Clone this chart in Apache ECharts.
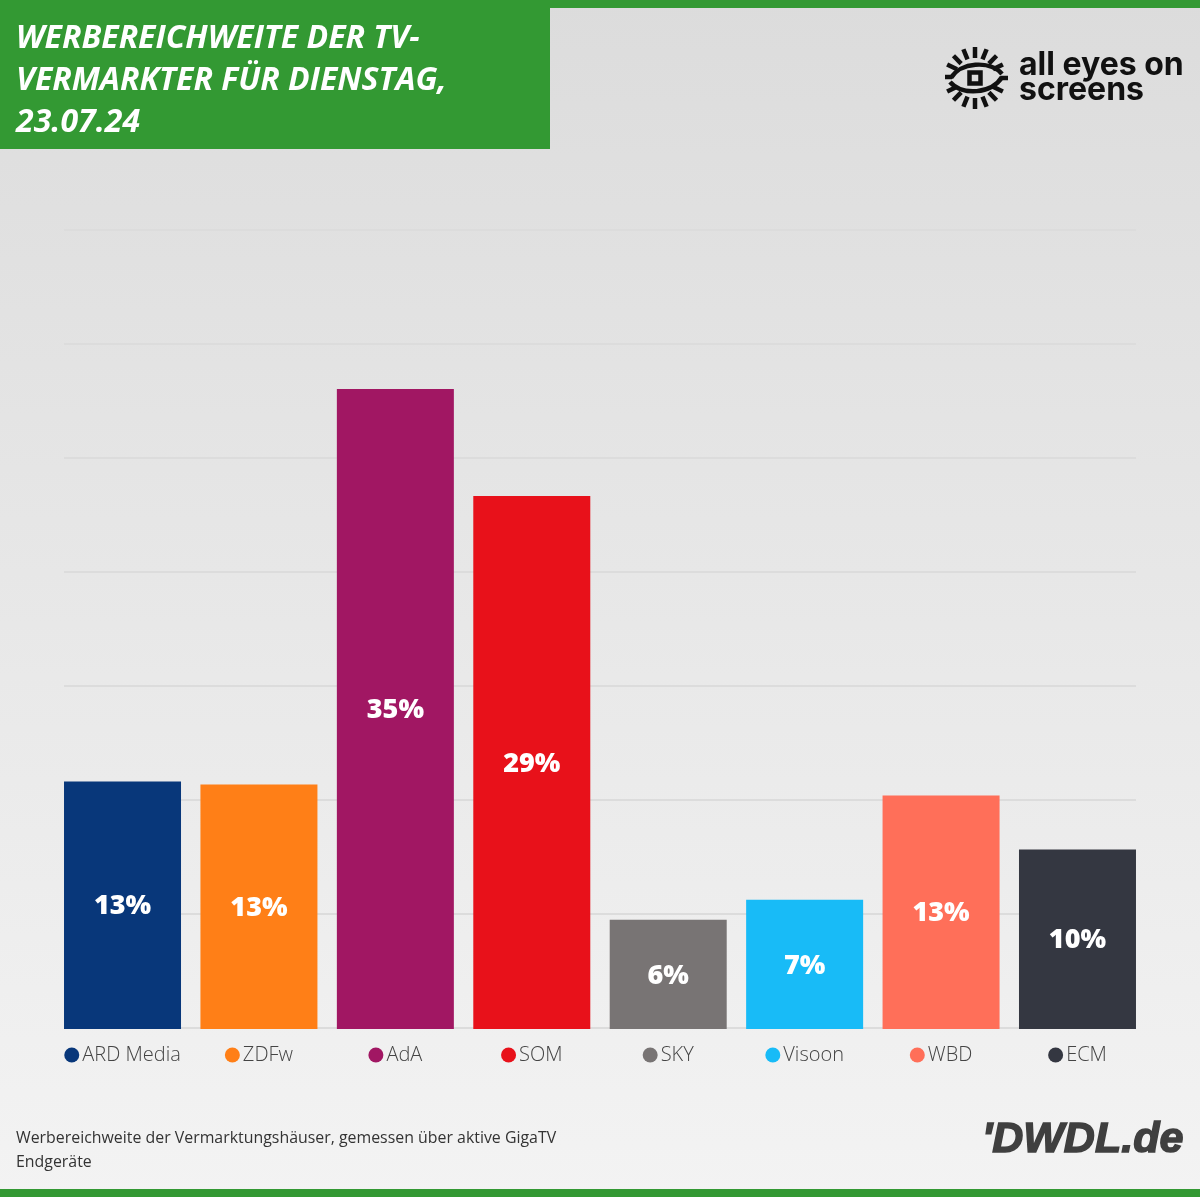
<!DOCTYPE html>
<html>

<head>
<meta charset="utf-8">
<title>Werbereichweite der TV-Vermarkter</title>
<style>
html, body {
	margin: 0;
	padding: 0;
}

#chart {
	width: 1200px;
	height: 1197px;
}
</style>
</head>

<body>
	<div id="chart"></div>
	<script src="https://cdn.jsdelivr.net/npm/echarts@6/dist/echarts.min.js"></script>
	<script>
		var categories = ['ARD Media', 'ZDFw', 'AdA', 'SOM', 'SKY', 'Visoon', 'WBD', 'ECM'];
		var values = [13.42, 13.26, 34.7, 28.9, 5.92, 7.01, 12.66, 9.73];
		var colors = ['#08377a', '#ff7f17', '#a11763', '#e8111a', '#787474', '#18bbf7', '#ff6f59', '#343741'];
		var titleLines = ['WERBEREICHWEITE DER TV-', 'VERMARKTER FÜR DIENSTAG,', '23.07.24'];
		var noteLines = ['Werbereichweite der Vermarktungshäuser, gemessen über aktive GigaTV', 'Endgeräte'];

		var GREEN = '#339933';
		var FONT = '"Open Sans", sans-serif';

		// dot + name under each bar, one rich style per colour
		var labelRich = { name: { fontFamily: FONT, fontWeight: 300, fontSize: 20, color: '#444', padding: [0, 0, 0, 3] } };
		colors.forEach(function(c, i) {
			labelRich['dot' + i] = { width: 15, height: 15, borderRadius: 7.5, backgroundColor: c };
		});

		// logo eye drawn from small strokes
		var ink = { stroke: '#111', lineWidth: 4.5, fill: null };
		var eyeX = 975, eyeY = 78;
		var logo = [];
		[-154, -134, -112, -90, -68, -46, -26, 26, 46, 68, 90, 112, 134, 154].forEach(function(a) {
			var r = a * Math.PI / 180;
			logo.push({
				type: 'line',
				shape: {
					x1: eyeX + 20 * Math.cos(r), y1: eyeY + 20 * Math.sin(r),
					x2: eyeX + 31 * Math.cos(r), y2: eyeY + 31 * Math.sin(r)
				},
				style: ink
			});
		});
		logo.push(
			{ type: 'line', shape: { x1: 945, y1: 77, x2: 952, y2: 77 }, style: ink },
			{ type: 'bezierCurve', shape: { x1: 951, y1: 78, x2: 1002, y2: 74, cpx1: 960, cpy1: 62, cpx2: 990, cpy2: 60 }, style: ink },
			{ type: 'line', shape: { x1: 1001, y1: 78, x2: 1008, y2: 78 }, style: ink },
			{ type: 'bezierCurve', shape: { x1: 1002, y1: 77, x2: 950, y2: 82, cpx1: 992, cpy1: 94, cpx2: 962, cpy2: 96 }, style: ink },
			{ type: 'rect', shape: { x: eyeX - 5.5, y: eyeY - 5.5, width: 11, height: 11 }, style: ink }
		);

		var chart = echarts.init(document.getElementById('chart'));
		chart.setOption({
			animation: false,
			backgroundColor: new echarts.graphic.LinearGradient(0, 0, 0, 1, [
				{ offset: 0, color: '#dcdcdc' },
				{ offset: 1, color: '#f3f3f3' }
			]),
			grid: [
				// first grid only carries the gridlines, bars sit flush with its ends
				{ left: 64, right: 64, top: 230, bottom: 169 },
				{ left: 54.3, width: 1091.4, top: 228.5, bottom: 168 }
			],
			xAxis: [
				{ gridIndex: 0, type: 'value', show: false, min: 0, max: 1 },
				{
					gridIndex: 1,
					type: 'category',
					data: categories,
					axisLine: { show: false },
					axisTick: { show: false },
					axisLabel: {
						margin: 16,
						interval: 0,
						formatter: function(name, i) {
							return '{dot' + i + '|}{name|' + name + '}';
						},
						rich: labelRich
					}
				}
			],
			yAxis: [
				{
					gridIndex: 0,
					type: 'value',
					min: 0,
					max: 43.4,
					interval: 6.2,
					axisLabel: { show: false },
					axisLine: { show: false },
					axisTick: { show: false },
					splitLine: { lineStyle: { color: '#dcdcdc', width: 2 } }
				},
				{ gridIndex: 1, type: 'value', min: 0, max: 43.4, show: false, splitLine: { show: false } }
			],
			series: [{
				type: 'bar',
				xAxisIndex: 1,
				yAxisIndex: 1,
				barWidth: 117,
				data: values.map(function(v, i) {
					return { value: v, itemStyle: { color: colors[i] } };
				}),
				label: {
					show: true,
					position: 'inside',
					offset: [0, 1.5],
					fontFamily: FONT,
					fontWeight: 800,
					fontSize: 27,
					color: '#fff',
					formatter: function(p) {
						return Math.round(p.value) + '%';
					}
				}
			}],
			graphic: [
				{ type: 'rect', shape: { x: 0, y: 0, width: 1200, height: 8 }, style: { fill: GREEN } },
				{ type: 'rect', shape: { x: 0, y: 1189, width: 1200, height: 8 }, style: { fill: GREEN } },
				{ type: 'rect', shape: { x: 0, y: 0, width: 550, height: 149 }, style: { fill: GREEN } },
				{
					type: 'text',
					x: 16,
					y: 18,
					style: {
						text: titleLines.join('\n'),
						font: 'italic 700 32px ' + FONT,
						lineHeight: 42,
						fill: '#fff'
					}
				},
				{
					type: 'text',
					x: 16,
					y: 1126,
					style: {
						text: noteLines.join('\n'),
						font: '400 15.9px ' + FONT,
						lineHeight: 24,
						fill: '#333'
					}
				},
				{
					type: 'text',
					x: 1019,
					y: 53,
					style: {
						text: 'all eyes on\nscreens',
						font: '700 32px Inter, sans-serif',
						lineHeight: 25,
						fill: '#111'
					}
				},
				{
					type: 'text',
					x: 982,
					y: 1119,
					style: {
						text: '\'DWDL.de',
						font: 'italic 700 43px "Liberation Sans", sans-serif',
						fill: '#3f3f3f',
						stroke: '#3f3f3f',
						lineWidth: 1.5
					}
				}
			].concat(logo)
		});
	</script>
</body>

</html>
